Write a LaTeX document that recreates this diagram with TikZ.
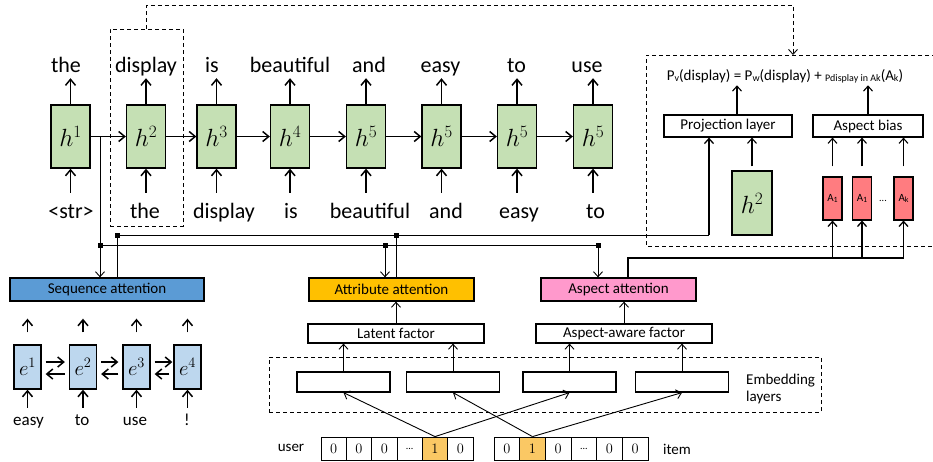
\documentclass[tikz,border=0pt]{standalone}
\usepackage{fontspec}
\setmainfont{Carlito}
\usepackage{tikz}
\usetikzlibrary{arrows.meta}

\definecolor{hgreen}{HTML}{C5E0B4}
\definecolor{eblue}{HTML}{BDD7EE}
\definecolor{seqblue}{HTML}{5B9BD5}
\definecolor{attryellow}{HTML}{FFC000}
\definecolor{asppink}{HTML}{FF99CC}
\definecolor{ared}{HTML}{FF7C80}
\definecolor{onehot}{HTML}{FAC864}

\newcommand{\sub}[2][10]{\raisebox{-1.5pt}{\fontsize{#1}{#1}\selectfont #2}}

\tikzset{
  hbox/.style={draw, line width=1.3pt, fill=hgreen, minimum width=39pt, minimum height=63pt, inner sep=0pt, font=\fontsize{24}{26}\selectfont},
  ebox/.style={draw, line width=1.3pt, fill=eblue, minimum width=27pt, minimum height=44pt, inner sep=0pt, font=\fontsize{20}{22}\selectfont},
  abox/.style={draw, line width=1.1pt, fill=ared, minimum width=19pt, minimum height=43pt, inner sep=0pt, font=\fontsize{11}{13}\selectfont},
  outword/.style={anchor=base, font=\fontsize{22}{26}\selectfont, text depth=4pt, inner xsep=1pt, inner ysep=2pt},
  inword/.style={anchor=base, font=\fontsize{22}{26}\selectfont, text height=25pt, inner xsep=1pt, inner ysep=0pt},
  eword/.style={anchor=base, font=\fontsize{17}{20}\selectfont, text height=17pt, inner xsep=1pt, inner ysep=0pt},
  lbl/.style={font=\fontsize{15}{17}\selectfont, inner sep=2pt},
  plain/.style={draw, line width=1.2pt, fill=white, minimum height=22pt, inner sep=0pt, font=\fontsize{15}{17}\selectfont},
  attn/.style={draw, line width=1.3pt, minimum height=23pt, inner sep=0pt, font=\fontsize{15}{17}\selectfont},
  cell/.style={draw, line width=0.8pt, minimum width=25.4pt, minimum height=23pt, inner sep=0pt, font=\fontsize{14}{16}\selectfont},
  dashbox/.style={draw, line width=0.9pt, dash pattern=on 4pt off 3pt, inner sep=0pt},
  dashlink/.style={line width=0.9pt, dash pattern=on 4pt off 3pt},
  conn/.style={line width=0.9pt},
  carrow/.style={line width=0.9pt, -{Straight Barb[length=5pt,width=9pt]}},
  marrow/.style={line width=1.1pt, -{Straight Barb[length=5pt,width=9pt]}},
  tarrow/.style={line width=1.5pt, -{Straight Barb[length=6pt,width=10pt]}},
  jdot/.style={fill, rectangle, inner sep=0pt, minimum size=5pt}
}

\begin{document}
\begin{tikzpicture}[x=1pt, y=-1pt]
    \useasboundingbox (0,0) rectangle (933,461);

    % decoder
    \node[hbox] (h1) at (70.5,136.5) {$h^1$};
    \node[hbox] (h2) at (146,136.5) {$h^2$};
    \node[hbox] (h3) at (216.5,136.5) {$h^3$};
    \node[hbox] (h4) at (290,136.5) {$h^4$};
    \node[hbox] (h5) at (366,136.5) {$h^5$};
    \node[hbox] (h6) at (441.5,136.5) {$h^5$};
    \node[hbox] (h7) at (517,136.5) {$h^5$};
    \node[hbox] (h8) at (593,136.5) {$h^5$};

    \node[outword] (o1) at (66,72) {the};
    \node[outword] (o2) at (146,72) {display};
    \node[outword] (o3) at (212,72) {is};
    \node[outword] (o4) at (290,72) {beautiful};
    \node[outword] (o5) at (369,72) {and};
    \node[outword] (o6) at (440.5,72) {easy};
    \node[outword] (o7) at (516.5,72) {to};
    \node[outword] (o8) at (587,72) {use};

    \node[inword] (i1) at (71,218) {<str>};
    \node[inword] (i2) at (145,218) {the};
    \node[inword] (i3) at (224,218) {display};
    \node[inword] (i4) at (291,218) {is};
    \node[inword] (i5) at (370,218) {beautiful};
    \node[inword] (i6) at (446,218) {and};
    \node[inword] (i7) at (519,218) {easy};
    \node[inword] (i8) at (595.5,218) {to};

    \draw[tarrow] (h1) -- (o1.south -| h1);
    \draw[tarrow] (h2) -- (o2.south -| h2);
    \draw[tarrow] (h3) -- (o3.south -| h3);
    \draw[tarrow] (h4) -- (o4.south -| h4);
    \draw[tarrow] (h5) -- (o5.south -| h5);
    \draw[tarrow] (h6) -- (o6.south -| h6);
    \draw[tarrow] (h7) -- (o7.south -| h7);
    \draw[tarrow] (h8) -- (o8.south -| h8);

    \draw[tarrow] (i1.north -| h1) -- (h1);
    \draw[tarrow] (i2.north -| h2) -- (h2);
    \draw[tarrow] (i3.north -| h3) -- (h3);
    \draw[tarrow] (i4.north -| h4) -- (h4);
    \draw[tarrow] (i5.north -| h5) -- (h5);
    \draw[tarrow] (i6.north -| h6) -- (h6);
    \draw[tarrow] (i7.north -| h7) -- (h7);
    \draw[tarrow] (i8.north -| h8) -- (h8);

    \draw[tarrow] (h1) -- (h2);
    \draw[tarrow] (h2) -- (h3);
    \draw[tarrow] (h3) -- (h4);
    \draw[tarrow] (h4) -- (h5);
    \draw[tarrow] (h5) -- (h6);
    \draw[tarrow] (h6) -- (h7);
    \draw[tarrow] (h7) -- (h8);

    % selected step and output panel
    \node[dashbox, minimum width=73pt, minimum height=197pt] (sel) at (146.5,127.5) {};
    \coordinate (lk) at (793,5);
    \coordinate (ptop) at (793,55);
    \draw[dashlink, -{Straight Barb[length=5pt,width=9pt]}] (sel.north) |- (lk) -- (ptop);
    \draw[dashlink] (936,55) -| (646,246) -- (936,246);

    \node[lbl, anchor=base] (form) at (785,80) {P\sub{v}(display) = P\sub{w}(display) + \sub{Pdisplay in Ak}(A\sub{k})};
    \node[plain, minimum width=128pt] (proj) at (728,126) {Projection layer};
    \node[plain, minimum width=110pt] (bias) at (868,126) {Aspect bias};
    \node[hbox, minimum width=40pt, minimum height=64pt] (hp) at (752,203) {$h^2$};
    \node[abox] (a1) at (832.5,198.5) {A\sub[8]{1}};
    \node[abox] (a2) at (862,198.5) {A\sub[8]{1}};
    \node[abox] (a3) at (903.5,198.5) {A\sub[8]{k}};
    \node[font=\fontsize{10}{12}\selectfont, inner sep=0pt] (adots) at (883,201) {...};

    \draw[marrow] ([xshift=9pt]proj.north) -- ([xshift=9pt]proj.north |- form.south);
    \draw[marrow] (bias.north) -- (bias.north |- form.south);
    \draw[marrow, shorten <=4pt] (hp) -- (hp |- proj.south);
    \draw[marrow, shorten <=10pt] (a1) -- (a1 |- bias.south);
    \draw[marrow, shorten <=10pt] (a2) -- (a2 |- bias.south);
    \draw[marrow, shorten <=10pt] (a3) -- (a3 |- bias.south);

    % attention layers
    \node[attn, fill=seqblue, minimum width=194pt] (seq) at (107,289.5) {Sequence attention};
    \node[attn, fill=attryellow, minimum width=165pt] (attr) at (391.5,289.5) {Attribute attention};
    \node[attn, fill=asppink, minimum width=155pt] (asp) at (618.5,289.5) {Aspect attention};

    \coordinate (sp) at (100,136.5);
    \coordinate (ja) at (100,245);
    \coordinate (jb) at (385,245);
    \coordinate (jc) at (598,245);
    \coordinate (ka) at (117,235);
    \coordinate (kb) at (396,235);
    \coordinate (kc) at (709,235);
    \coordinate (ma) at (628,258);

    \draw[carrow] (sp) -- (sp |- seq.north);
    \draw[conn] (ja) -- (jc);
    \draw[carrow] (jb) -- (jb |- attr.north);
    \draw[carrow] (jc) -- (jc |- asp.north);
    \draw[conn] (ka |- seq.north) -- (ka) -- (kc);
    \draw[conn] (kb |- attr.north) -- (kb);
    \draw[marrow, line width=1.3pt] (kc) -- (kc |- proj.south);
    \node[jdot] (d1) at (ja) {};
    \node[jdot] (d2) at (jb) {};
    \node[jdot] (d3) at (jc) {};
    \node[jdot] (d4) at (ka) {};
    \node[jdot] (d5) at (kb) {};

    \draw[marrow, line width=1.3pt] (ma |- asp.north) -- (ma) -| (a3);
    \draw[marrow, line width=1.3pt] (a1 |- ma) -- (a1);
    \draw[marrow, line width=1.3pt] (a2 |- ma) -- (a2);

    % review encoder
    \node[ebox] (e1) at (27.5,367) {$e^1$};
    \node[ebox] (e2) at (83,367) {$e^2$};
    \node[ebox] (e3) at (136.5,367) {$e^3$};
    \node[ebox] (e4) at (187.5,367) {$e^4$};

    \node[eword] (w1) at (28.5,425) {easy};
    \node[eword] (w2) at (82,425) {to};
    \node[eword] (w3) at (135,425) {use};
    \node[eword] (w4) at (187,425) {!};

    \draw[tarrow] (w1.north -| e1) -- (e1);
    \draw[tarrow] (w2.north -| e2) -- (e2);
    \draw[tarrow] (w3.north -| e3) -- (e3);
    \draw[tarrow] (w4.north -| e4) -- (e4);

    \draw[tarrow, shorten <=12pt, shorten >=17pt] (e1) -- (e1 |- seq.south);
    \draw[tarrow, shorten <=12pt, shorten >=17pt] (e2) -- (e2 |- seq.south);
    \draw[tarrow, shorten <=12pt, shorten >=17pt] (e3) -- (e3 |- seq.south);
    \draw[tarrow, shorten <=12pt, shorten >=17pt] (e4) -- (e4 |- seq.south);

    \draw[tarrow, shorten <=4pt, shorten >=4pt] ([yshift=5pt]e1.east) -- ([yshift=5pt]e2.west);
    \draw[tarrow, shorten <=4pt, shorten >=4pt] ([yshift=-7pt]e2.west) -- ([yshift=-7pt]e1.east);
    \draw[tarrow, shorten <=4pt, shorten >=4pt] ([yshift=5pt]e2.east) -- ([yshift=5pt]e3.west);
    \draw[tarrow, shorten <=4pt, shorten >=4pt] ([yshift=-7pt]e3.west) -- ([yshift=-7pt]e2.east);
    \draw[tarrow, shorten <=4pt, shorten >=1pt] ([yshift=5pt]e3.east) -- ([yshift=5pt]e4.west);
    \draw[tarrow, shorten <=4pt, shorten >=4pt] ([yshift=-7pt]e4.west) -- ([yshift=-7pt]e3.east);

    % factors and embeddings
    \node[plain, minimum width=176pt, minimum height=19pt] (lat) at (396,333.5) {Latent factor};
    \node[plain, minimum width=176pt, minimum height=19pt] (aaf) at (624,333.5) {Aspect-aware factor};
    \draw[carrow] (lat.north) -- (lat.north |- attr.south);
    \draw[carrow] (aaf.north) -- (aaf.north |- asp.south);

    \node[dashbox, minimum width=552pt, minimum height=55pt] (embl) at (545,384.5) {};
    \node[plain, minimum width=93pt, minimum height=20pt] (m1) at (343.5,382) {};
    \node[plain, minimum width=93pt, minimum height=20pt] (m2) at (453,382) {};
    \node[plain, minimum width=93pt, minimum height=20pt] (m3) at (569.5,382) {};
    \node[plain, minimum width=93pt, minimum height=20pt] (m4) at (682,382) {};
    \node[lbl, align=left, anchor=west] (embt) at (744,389) {Embedding\\layers};

    \draw[carrow] (m1.north) -- (m1.north |- lat.south);
    \draw[carrow] (m2.north) -- (m2.north |- lat.south);
    \draw[carrow] (m3.north) -- (m3.north |- aaf.south);
    \draw[carrow] (m4.north) -- (m4.north |- aaf.south);

    % one-hot inputs
    \node[cell] (u1) at (333.7,448.5) {$0$};
    \node[cell] (u2) at (359,448.5) {$0$};
    \node[cell] (u3) at (384.3,448.5) {$0$};
    \node[cell] (u4) at (409.7,448.5) {\fontsize{10}{12}\selectfont ...};
    \node[cell, fill=onehot] (u5) at (435,448.5) {$1$};
    \node[cell] (u6) at (460.3,448.5) {$0$};
    \node[cell] (v1) at (506.8,448.5) {$0$};
    \node[cell, fill=onehot] (v2) at (532.5,448.5) {$1$};
    \node[cell] (v3) at (558.2,448.5) {$0$};
    \node[cell] (v4) at (583.8,448.5) {\fontsize{10}{12}\selectfont ...};
    \node[cell] (v5) at (609.5,448.5) {$0$};
    \node[cell] (v6) at (635.2,448.5) {$0$};
    \node[lbl] (ulab) at (291,448) {user};
    \node[lbl] (ilab) at (677,449) {item};

    \draw[carrow] (u5.north) -- (m1.south);
    \draw[carrow] (u5.north) -- (m3.south);
    \draw[carrow] (v2.north) -- (m2.south);
    \draw[carrow] (v2.north) -- (m4.south);
\end{tikzpicture}
\end{document}
